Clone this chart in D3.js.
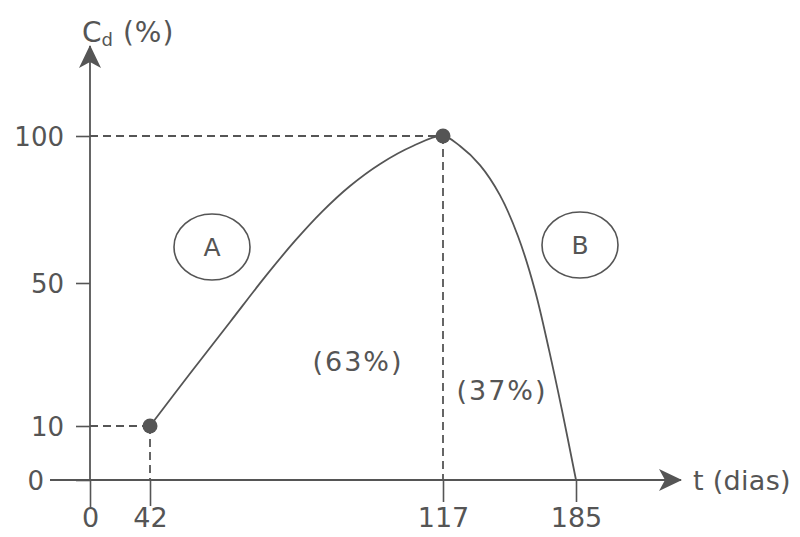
<!DOCTYPE html>
<html>
<head>
<meta charset="utf-8">
<script src="https://cdn.jsdelivr.net/npm/d3@7"></script>
<style>
  body { margin: 0; background: #fff; }
  text { font-family: "DejaVu Sans", Verdana, sans-serif; fill: #555; }
</style>
</head>
<body>
<script>
// Curva de Cd (%) ao longo do tempo (dias) - esquema com fases A e B

var width = 800,
	height = 537;

// ticks (eixos esquemáticos, não proporcionais)
var tTicks = [0, 42, 117, 185];
var cdTicks = [0, 10, 50, 100];

// pontos (t, Cd)
var curveT  = [42, 52.2, 62.5, 71.4, 79.1, 86.0, 93.2, 100.9, 109.3, 117, 125.7, 135.9, 146.1, 155.3, 164.0, 171.2, 177.8, 185];
var curveCd = [10, 24.6, 39.1, 52.0, 64.3, 74.2, 83.0, 90.5, 96.6, 100, 96.6, 90.1, 79.9, 66.0, 48.0, 31.3, 14.5, 0];

// pontos marcados
var markT  = [42, 117];
var markCd = [10, 100];

// rótulos das fases
var phases = ["A", "B"];
var shares = ["(63%)", "(37%)"];

var svg = d3.select('body').append('svg')
	.attr('width', width)
	.attr('height', height);

// escalas por trechos, como no desenho original
var x = d3.scaleLinear()
	.domain(tTicks)
	.range([90, 150, 443, 576]);

var y = d3.scaleLinear()
	.domain(cdTicks)
	.range([480, 426, 283, 136]);

var ink = "#555";

// setas
var defs = svg.append("defs");
defs.append("marker")
	.attr("id", "arrow")
	.attr("viewBox", "0 0 24 24")
	.attr("refX", 22).attr("refY", 12)
	.attr("markerWidth", 24).attr("markerHeight", 24)
	.attr("markerUnits", "userSpaceOnUse")
	.attr("orient", "auto")
	.append("path")
	.attr("d", "M0,1 L23,12 L0,23 L6,12 Z")
	.attr("fill", ink);

// linhas tracejadas de referência
var guides = [];
markT.forEach(function(t, i) {
	guides.push([[0, markCd[i]], [t, markCd[i]]]);
	guides.push([[t, markCd[i]], [t, 0]]);
});
svg.selectAll(".guide")
	.data(guides)
	.enter().append("line")
	.attr("x1", function(d) { return x(d[0][0]); })
	.attr("y1", function(d) { return y(d[0][1]); })
	.attr("x2", function(d) { return x(d[1][0]); })
	.attr("y2", function(d) { return y(d[1][1]); })
	.attr("stroke", ink)
	.attr("stroke-width", 1.8)
	.attr("stroke-dasharray", "8,5");

// eixo y
var yAxis = svg.append("g")
	.attr("transform", "translate(" + x(0) + ",0)")
	.call(d3.axisLeft(y).tickValues(cdTicks).tickSize(14).tickPadding(12).tickSizeOuter(0));
yAxis.select(".domain").remove();
yAxis.selectAll("line").attr("stroke", ink).attr("stroke-width", 1.6);
yAxis.selectAll("text")
	.attr("font-size", 26)
	.attr("fill", ink)
	.attr("dy", "0.36em")
	.style("font-family", "DejaVu Sans");
yAxis.selectAll(".tick").filter(function(d) { return d === 0; })
	.select("text").attr("x", -46);

// eixo x
var xAxis = svg.append("g")
	.attr("transform", "translate(0," + y(0) + ")")
	.call(d3.axisBottom(x).tickValues(tTicks).tickSize(22).tickPadding(6).tickSizeOuter(0));
xAxis.select(".domain").remove();
xAxis.selectAll("line").attr("stroke", ink).attr("stroke-width", 1.6);
xAxis.selectAll(".tick").filter(function(d) { return d === 42; })
	.select("line").attr("y2", 26);
xAxis.selectAll(".tick").filter(function(d) { return d === 0; })
	.select("line").attr("y2", 27);
xAxis.selectAll("text")
	.attr("font-size", 27)
	.attr("fill", ink)
	.style("font-family", "DejaVu Sans");

// linhas dos eixos com setas
svg.append("line")
	.attr("x1", 50).attr("y1", y(0))
	.attr("x2", 681).attr("y2", y(0))
	.attr("stroke", ink).attr("stroke-width", 1.8)
	.attr("marker-end", "url(#arrow)");
svg.append("line")
	.attr("x1", x(0)).attr("y1", y(0))
	.attr("x2", x(0)).attr("y2", 46)
	.attr("stroke", ink).attr("stroke-width", 1.8)
	.attr("marker-end", "url(#arrow)");

// títulos dos eixos
var yTitle = svg.append("text")
	.attr("x", 82).attr("y", 42)
	.attr("font-size", 28);
yTitle.append("tspan").text("C");
yTitle.append("tspan").attr("font-size", 18).attr("dy", 4).text("d");
yTitle.append("tspan").attr("dy", -4).attr("letter-spacing", 1).text(" (%)");

svg.append("text")
	.attr("x", 693).attr("y", y(0))
	.attr("dy", "0.36em")
	.attr("font-size", 27)
	.attr("letter-spacing", 0.3)
	.text("t (dias)");

// curva
var pts = curveT.map(function(t, i) { return [t, curveCd[i]]; });
svg.append("path")
	.datum(pts)
	.attr("fill", "none")
	.attr("stroke", ink)
	.attr("stroke-width", 1.8)
	.attr("d", d3.line()
		.x(function(d) { return x(d[0]); })
		.y(function(d) { return y(d[1]); })
		.curve(d3.curveCatmullRom.alpha(0.5)));

// pontos
svg.selectAll(".dot")
	.data(markT)
	.enter().append("circle")
	.attr("cx", function(d) { return x(d); })
	.attr("cy", function(d, i) { return y(markCd[i]); })
	.attr("r", 7.5)
	.attr("fill", ink);

// fases A e B
var phaseCenters = [[212, 247], [580, 245]];
var ph = svg.selectAll(".phase")
	.data(phases)
	.enter().append("g")
	.attr("transform", function(d, i) { return "translate(" + phaseCenters[i] + ")"; });
ph.append("ellipse")
	.attr("rx", 38).attr("ry", 33)
	.attr("fill", "none")
	.attr("stroke", ink)
	.attr("stroke-width", 1.6);
ph.append("text")
	.attr("text-anchor", "middle")
	.attr("dy", "0.36em")
	.attr("font-size", 25)
	.text(function(d) { return d; });

// percentuais
var sharePos = [[358, 361], [502, 390]];
svg.selectAll(".share")
	.data(shares)
	.enter().append("text")
	.attr("x", function(d, i) { return sharePos[i][0]; })
	.attr("y", function(d, i) { return sharePos[i][1]; })
	.attr("text-anchor", "middle")
	.attr("dy", "0.36em")
	.attr("font-size", 27)
	.attr("letter-spacing", 2)
	.text(function(d) { return d; });
</script>
</body>
</html>
